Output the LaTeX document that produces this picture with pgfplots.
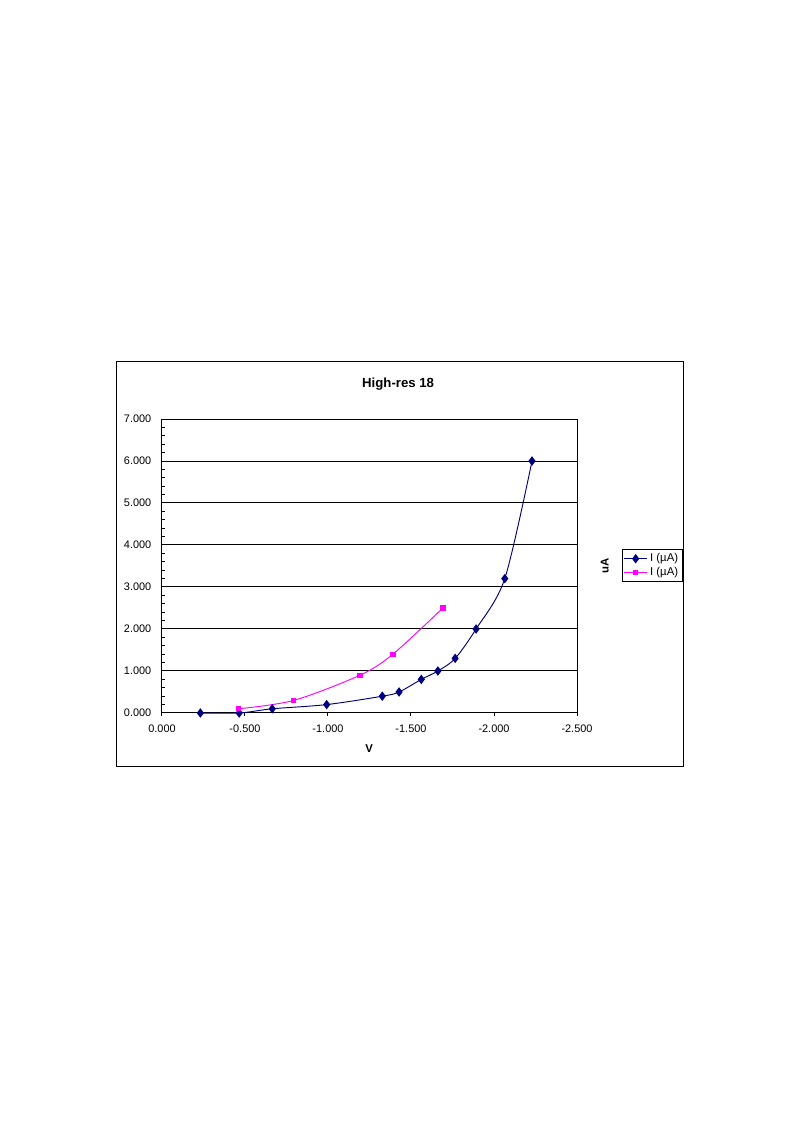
\documentclass[border=0pt]{standalone}
\usepackage{pgfplots}
\pgfplotsset{compat=1.18}
\usepackage{fontspec}
\setmainfont{Liberation Sans}
\definecolor{xlnavy}{HTML}{000080}
\definecolor{xlmag}{HTML}{FF00FF}

\begin{document}
\begin{tikzpicture}
% page of the reference (A4, 1px = 0.75pt)
\path[use as bounding box] (0,0) rectangle (595.5pt,842.25pt);
% chart area frame
\draw[line width=0.75pt] (87pt,267pt) rectangle (512.25pt,570.75pt);
\begin{axis}[
  at={(121.5pt,307.5pt)}, anchor=south west,
  scale only axis, width=311.25pt, height=220.5pt,
  x dir=reverse,
  xmin=-2.5, xmax=0, ymin=0, ymax=7,
  xtick={-2.5,-2,-1.5,-1,-0.5,0},
  ytick={0,1,...,7},
  minor y tick num=4,
  ymajorgrids=true,
  grid style={black, line width=0.75pt},
  axis line style={line width=0.75pt},
  every tick/.style={black, line width=0.75pt},
  tick pos=left,
  xtick align=outside, ytick align=inside,
  major tick length=2.25pt, minor tick length=2.25pt,
  tick label style={font=\fontsize{8.2}{10}\selectfont},
  yticklabel shift=4.5pt,
  xticklabel shift=3pt,
  /pgf/number format/.cd, fixed, fixed zerofill, precision=3, assume math mode=true,
  /pgfplots/.cd,
  title={High-res 18},
  title style={at={(0.569,1.092)}, anchor=center, font=\bfseries\fontsize{9.9}{12}\selectfont},
  xlabel={V},
  xlabel style={at={(0.499,-0.122)}, anchor=center, font=\bfseries\fontsize{8.5}{10}\selectfont},
  ylabel={uA},
  ylabel style={at={(1.067,0.5)}, anchor=center, font=\bfseries\fontsize{8.5}{10}\selectfont},
  legend style={at={(1.108,0.558)}, anchor=north west, draw=black, line width=0.6pt,
    font=\fontsize{8.5}{10}\selectfont, inner sep=1.2pt, row sep=-1.5pt},
  legend cell align=left,
  clip=false,
]

\addplot[color=xlnavy, line width=0.7pt, smooth, tension=0.5,
  mark=diamond*, mark size=3pt, mark options={solid, fill=xlnavy}]
coordinates {
(-0.231, 0.0)
(-0.465, 0.0)
(-0.664, 0.1)
(-0.992, 0.2)
(-1.327, 0.4)
(-1.428, 0.5)
(-1.562, 0.8)
(-1.662, 1.0)
(-1.766, 1.3)
(-1.892, 2.0)
(-2.065, 3.2)
(-2.229, 6.0)
};
\addlegendentry{I (µA)}

\addplot[color=xlmag, line width=0.7pt, smooth, tension=0.5,
  mark=square*, mark size=1.6pt, mark options={solid, fill=xlmag}]
coordinates {
(-0.461, 0.1)
(-0.794, 0.3)
(-1.193, 0.9)
(-1.391, 1.4)
(-1.692, 2.5)
};
\addlegendentry{I (µA)}

\end{axis}
\end{tikzpicture}
\end{document}
